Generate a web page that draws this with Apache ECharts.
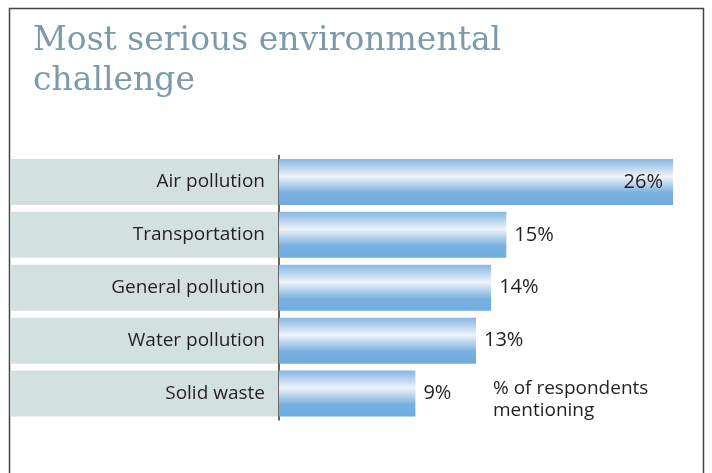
<!DOCTYPE html>
<html>
<head>
<meta charset="utf-8">
<script src="https://cdn.jsdelivr.net/npm/echarts@6/dist/echarts.min.js"></script>
<style>
  html, body { margin: 0; padding: 0; background: #fff; }
  #chart { width: 712px; height: 473px; }
</style>
</head>
<body>
<div id="chart"></div>
<script>
const categories = ["Air pollution", "Transportation", "General pollution", "Water pollution", "Solid waste"];
const shares = [26, 15, 14, 13, 9];

const barFill = new echarts.graphic.LinearGradient(0, 0, 0, 1, [
  { offset: 0, color: "#86b6e3" },
  { offset: 0.38, color: "#eef3fa" },
  { offset: 0.74, color: "#78b0e0" },
  { offset: 1, color: "#70ace0" }
]);

const chart = echarts.init(document.getElementById("chart"));
chart.setOption({
  animation: false,
  title: {
    text: "Most serious environmental\nchallenge",
    left: 28,
    top: 16,
    textStyle: {
      fontFamily: "DejaVu Serif",
      fontWeight: "normal",
      fontSize: 33,
      lineHeight: 40,
      color: "#7a9bac"
    }
  },
  grid: { left: 279, right: 39, top: 155.5, bottom: 53 },
  xAxis: {
    type: "value",
    min: 0,
    max: 26,
    show: false
  },
  yAxis: {
    type: "category",
    data: categories,
    inverse: true,
    axisLine: { show: true, lineStyle: { color: "#333", width: 1.5 } },
    axisTick: { show: false },
    splitLine: { show: false },
    axisLabel: {
      margin: 1,
      align: "right",
      width: 255,
      height: 46,
      lineHeight: 46,
      padding: [0, 13, 0, 0],
      backgroundColor: "#d3e0e0",
      fontFamily: "Open Sans",
      fontSize: 19,
      color: "#231f20"
    }
  },
  series: [{
    type: "bar",
    barCategoryGap: "13%",
    data: shares.map(v => v >= 20
      ? { value: v, label: { position: "insideRight", distance: 10 } }
      : v),
    itemStyle: { color: barFill },
    label: {
      show: true,
      position: "right",
      distance: 8,
      formatter: "{c}%",
      fontFamily: "Open Sans",
      fontSize: 20,
      color: "#231f20"
    }
  }],
  graphic: [
    {
      type: "polyline",
      shape: { points: [[9.5, 473], [9.5, 8.5], [703.5, 8.5], [703.5, 473]] },
      style: { stroke: "#444", lineWidth: 1.5, fill: null }
    },
    {
      type: "text",
      left: 493,
      top: 378,
      style: {
        text: "% of respondents\nmentioning",
        fontFamily: "Open Sans",
        fontSize: 19,
        lineHeight: 22,
        fill: "#231f20"
      }
    }
  ]
});
</script>
</body>
</html>
